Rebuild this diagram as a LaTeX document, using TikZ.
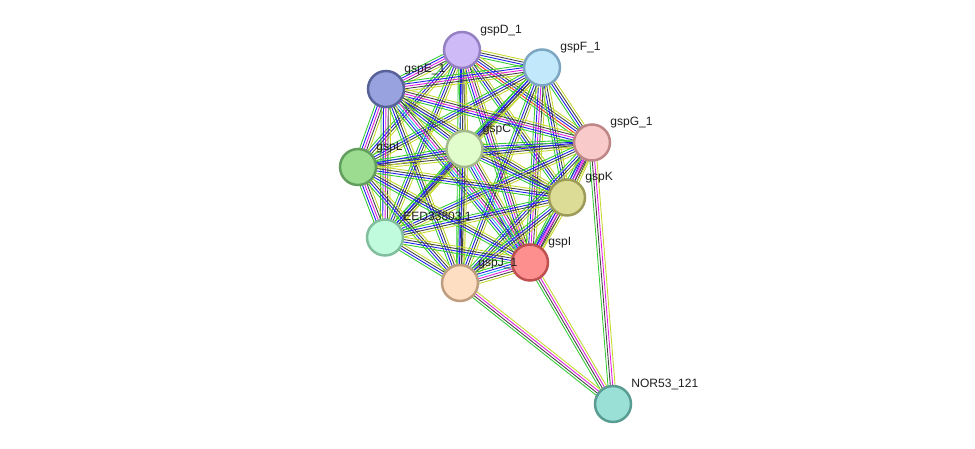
\documentclass[tikz,border=0pt]{standalone}
\usepackage{fontspec}
\setmainfont{Liberation Sans}
\usetikzlibrary{calc,backgrounds}

\definecolor{sgreen}{HTML}{33CC33}
\definecolor{sblue}{HTML}{1F1FF0}
\definecolor{sblack}{HTML}{444444}
\definecolor{syellow}{HTML}{C4D82E}
\definecolor{smagenta}{HTML}{E020E0}
\definecolor{scyan}{HTML}{22BBDD}
\definecolor{sred}{HTML}{FF2222}

% evidence channels of one interaction
\newcommand{\evA}{sgreen,sblue,sblack,syellow}
\newcommand{\evB}{sgreen,sblue,smagenta,sblack,syellow}
\newcommand{\evC}{sgreen,sblue,scyan,smagenta,sblack,syellow}
\newcommand{\evR}{sgreen,sred,sblue,sblack,syellow}
\newcommand{\evN}{sgreen,sblack,smagenta,syellow}

% one line per channel, side by side
\newcommand{\ppilink}[3]{%
  \foreach \c [count=\n] in #3 {\xdef\nlines{\n}}%
  \foreach \c [count=\i] in #3 {%
    \draw[evidence,\c] ($(#1)!{(\i-(\nlines+1)/2)*1.35pt}!90:(#2)$) --
      ($(#2)!{(\i-(\nlines+1)/2)*1.35pt}!-90:(#1)$);}}

\begin{document}
\begin{tikzpicture}[x=0.02cm,y=-0.02cm]
\tikzstyle{protein}=[circle,minimum size=0.72cm,line width=0.05cm,inner sep=0pt]
\tikzstyle{tag}=[anchor=base west,inner sep=0pt,font=\fontsize{6.86}{8}\selectfont,text=black!88]
\tikzstyle{evidence}=[line width=0.5pt]
\useasboundingbox (0,0) rectangle (975,449);

\node[protein,fill={rgb,255:red,205;green,186;blue,247},draw={rgb,255:red,150;green,128;blue,196}](gspD1) at (462,50) {};
\node[protein,fill={rgb,255:red,194;green,232;blue,251},draw={rgb,255:red,124;green,166;blue,194}](gspF1) at (542,67.5) {};
\node[protein,fill={rgb,255:red,152;green,162;blue,222},draw={rgb,255:red,88;green,98;blue,152}](gspE1) at (386,89) {};
\node[protein,fill={rgb,255:red,248;green,202;blue,202},draw={rgb,255:red,190;green,134;blue,134}](gspG1) at (592,142.5) {};
\node[protein,fill={rgb,255:red,226;green,253;blue,204},draw={rgb,255:red,164;green,186;blue,140}](gspC) at (464.5,149) {};
\node[protein,fill={rgb,255:red,156;green,220;blue,144},draw={rgb,255:red,98;green,158;blue,94}](gspL) at (358,167) {};
\node[protein,fill={rgb,255:red,220;green,220;blue,150},draw={rgb,255:red,156;green,156;blue,88}](gspK) at (567,197.5) {};
\node[protein,fill={rgb,255:red,192;green,251;blue,221},draw={rgb,255:red,130;green,190;blue,158}](EED) at (385,237.5) {};
\node[protein,fill={rgb,255:red,253;green,143;blue,143},draw={rgb,255:red,190;green,80;blue,80}](gspI) at (530,262.5) {};
\node[protein,fill={rgb,255:red,254;green,222;blue,194},draw={rgb,255:red,190;green,158;blue,126}](gspJ1) at (460,283) {};
\node[protein,fill={rgb,255:red,154;green,224;blue,214},draw={rgb,255:red,88;green,156;blue,146}](NOR) at (613,404) {};

\node[tag](lgspD1) at ($(gspD1)+(18,-16.5)$) {gspD\_1};
\node[tag](lgspF1) at ($(gspF1)+(18,-16.5)$) {gspF\_1};
\node[tag](lgspE1) at ($(gspE1)+(18,-16.5)$) {gspE\_1};
\node[tag](lgspG1) at ($(gspG1)+(18,-16.5)$) {gspG\_1};
\node[tag](lgspC) at ($(gspC)+(18,-16.5)$) {gspC};
\node[tag](lgspL) at ($(gspL)+(18,-16.5)$) {gspL};
\node[tag](lgspK) at ($(gspK)+(18,-16.5)$) {gspK};
\node[tag](lEED) at ($(EED)+(18,-16.5)$) {EED33803.1};
\node[tag](lgspI) at ($(gspI)+(18,-16.5)$) {gspI};
\node[tag](lgspJ1) at ($(gspJ1)+(18,-16.5)$) {gspJ\_1};
\node[tag](lNOR) at ($(NOR)+(18,-16.5)$) {NOR53\_121};

\begin{scope}[on background layer]
\ppilink{gspD1}{gspF1}{\evA}
\ppilink{gspD1}{gspE1}{\evB}
\ppilink{gspD1}{gspG1}{\evR}
\ppilink{gspD1}{gspC}{\evA}
\ppilink{gspD1}{gspL}{\evA}
\ppilink{gspD1}{gspK}{\evA}
\ppilink{gspD1}{EED}{\evA}
\ppilink{gspD1}{gspI}{\evB}
\ppilink{gspD1}{gspJ1}{\evA}
\ppilink{gspF1}{gspE1}{\evB}
\ppilink{gspF1}{gspG1}{\evA}
\ppilink{gspF1}{gspC}{\evA}
\ppilink{gspF1}{gspL}{\evA}
\ppilink{gspF1}{gspK}{\evA}
\ppilink{gspF1}{EED}{\evA}
\ppilink{gspF1}{gspI}{\evB}
\ppilink{gspF1}{gspJ1}{\evA}
\ppilink{gspE1}{gspG1}{\evB}
\ppilink{gspE1}{gspC}{\evA}
\ppilink{gspE1}{gspL}{\evB}
\ppilink{gspE1}{gspK}{\evA}
\ppilink{gspE1}{EED}{\evB}
\ppilink{gspE1}{gspI}{\evC}
\ppilink{gspE1}{gspJ1}{\evA}
\ppilink{gspG1}{gspC}{\evA}
\ppilink{gspG1}{gspL}{\evA}
\ppilink{gspG1}{gspK}{\evB}
\ppilink{gspG1}{EED}{\evA}
\ppilink{gspG1}{gspI}{\evB}
\ppilink{gspG1}{gspJ1}{\evA}
\ppilink{gspC}{gspL}{\evA}
\ppilink{gspC}{gspK}{\evA}
\ppilink{gspC}{EED}{\evA}
\ppilink{gspC}{gspI}{\evC}
\ppilink{gspC}{gspJ1}{\evA}
\ppilink{gspL}{gspK}{\evA}
\ppilink{gspL}{EED}{\evB}
\ppilink{gspL}{gspI}{\evA}
\ppilink{gspL}{gspJ1}{\evA}
\ppilink{gspK}{EED}{\evA}
\ppilink{gspK}{gspI}{\evB}
\ppilink{gspK}{gspJ1}{\evA}
\ppilink{EED}{gspI}{\evA}
\ppilink{EED}{gspJ1}{\evA}
\ppilink{gspI}{gspJ1}{\evC}
\ppilink{gspG1}{NOR}{\evN}
\ppilink{gspI}{NOR}{\evN}
\ppilink{gspJ1}{NOR}{\evN}
\end{scope}
\end{tikzpicture}
\end{document}
